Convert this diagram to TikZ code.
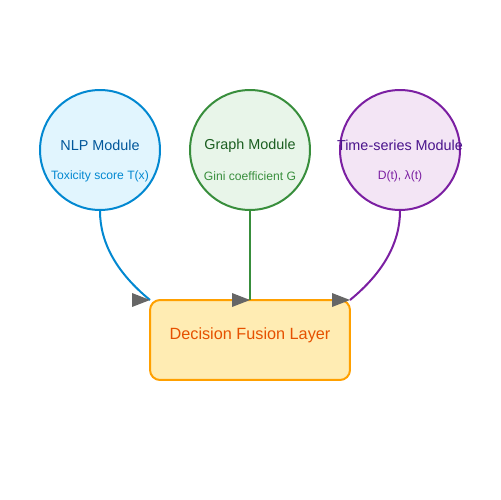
\documentclass[tikz,border=0pt]{standalone}
\usepackage{fontspec}
\setmainfont{Liberation Sans}
\definecolor{nlpfill}{HTML}{E1F5FE}
\definecolor{nlpdraw}{HTML}{0288D1}
\definecolor{nlptext}{HTML}{01579B}
\definecolor{graphfill}{HTML}{E8F5E9}
\definecolor{graphdraw}{HTML}{388E3C}
\definecolor{graphtext}{HTML}{1B5E20}
\definecolor{tsfill}{HTML}{F3E5F5}
\definecolor{tsdraw}{HTML}{7B1FA2}
\definecolor{tstext}{HTML}{4A148C}
\definecolor{fusefill}{HTML}{FFECB3}
\definecolor{fusedraw}{HTML}{FFA000}
\definecolor{fusetext}{HTML}{E65100}
\definecolor{tipgray}{HTML}{666666}
\tikzset{
  module/.style={circle, line width=0.04cm, minimum size=2.4cm, inner sep=0pt},
  title/.style={font=\fontsize{8.2pt}{9pt}\selectfont},
  sub/.style={font=\fontsize{6.9pt}{8pt}\selectfont},
  tiphead/.style={fill=tipgray, draw=none},
}
\begin{document}
\begin{tikzpicture}[x=0.02cm, y=-0.02cm]
  \useasboundingbox (0,0) rectangle (500,500);
  % 画三个模块
  \node[module, draw=nlpdraw, fill=nlpfill] (nlp) at (100,150) {};
  \node[module, draw=graphdraw, fill=graphfill] (graph) at (250,150) {};
  \node[module, draw=tsdraw, fill=tsfill] (ts) at (400,150) {};
  \node[title, text=nlptext] (nlpt) at (100,145.5) {NLP Module};
  \node[sub, text=nlpdraw] (nlps) at (100,176.5) {Toxicity score T(x)};
  \node[title, text=graphtext] (grapht) at (250,145.5) {Graph Module};
  \node[sub, text=graphdraw] (graphs) at (250,176.5) {Gini coefficient G};
  \node[title, text=tstext] (tst) at (400,145.5) {Time-series Module};
  \node[sub, text=tsdraw] (tss) at (400,176.5) {D(t), λ(t)};
  % 画融合层
  \node[draw=fusedraw, fill=fusefill, line width=0.04cm, rounded corners=0.2cm,
        minimum width=4cm, minimum height=1.6cm, inner sep=0pt] (fuse) at (250,340) {};
  \node[font=\fontsize{9.25pt}{11pt}\selectfont, text=fusetext] (fuset) at (250,335.5) {Decision Fusion Layer};
  \coordinate (inl) at (150,300);
  \coordinate (inm) at (250,300);
  \coordinate (inr) at (350,300);
  % 画连线
  \draw[nlpdraw, line width=0.04cm] (nlp.south) .. controls (100,243) and (117,273) .. (inl);
  \draw[graphdraw, line width=0.04cm] (graph.south) -- (inm);
  \draw[tsdraw, line width=0.04cm] (ts.south) .. controls (400,243) and (383,273) .. (inr);
  % 箭头
  \foreach \p in {inl, inm, inr} {
    \fill[tiphead] (\p) -- ++(-18,-7) -- ++(0,14) -- cycle;
  }
\end{tikzpicture}
\end{document}
